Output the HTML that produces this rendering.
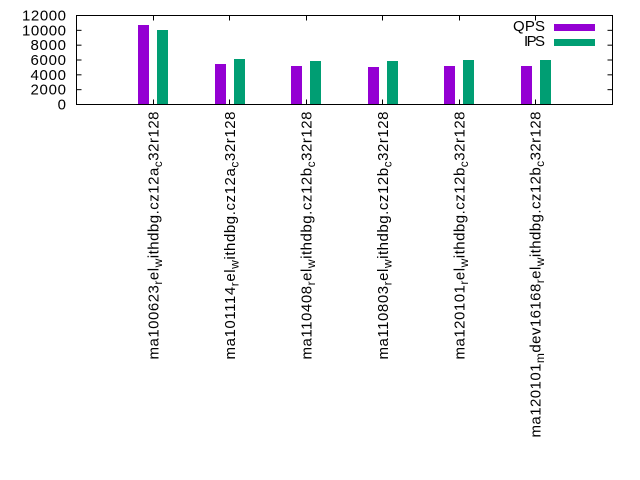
<!DOCTYPE html>
<html>
<head>
<meta charset="utf-8">
<style>
  html,body{margin:0;padding:0;background:#fff;}
  svg{display:block;}
  text{font-family:"Liberation Sans",Arial,sans-serif;fill:#000;}
</style>
</head>
<body>
<svg width="640" height="480" viewBox="0 0 640 480" xmlns="http://www.w3.org/2000/svg">
  <rect x="0" y="0" width="640" height="480" fill="#fff"/>

  <!-- bars -->
  <g shape-rendering="crispEdges">
    <!-- group 1 t=153 -->
    <rect x="138" y="25" width="11" height="79.5" fill="#9400D3"/>
    <rect x="157" y="30" width="11" height="74.5" fill="#009E73"/>
    <!-- group 2 t=229.6 -->
    <rect x="215" y="64" width="11" height="40.5" fill="#9400D3"/>
    <rect x="234" y="59" width="11" height="45.5" fill="#009E73"/>
    <!-- group 3 t=306.2 -->
    <rect x="291" y="66" width="11" height="38.5" fill="#9400D3"/>
    <rect x="310" y="61" width="11" height="43.5" fill="#009E73"/>
    <!-- group 4 t=382.8 -->
    <rect x="368" y="67" width="11" height="37.5" fill="#9400D3"/>
    <rect x="387" y="61" width="11" height="43.5" fill="#009E73"/>
    <!-- group 5 t=459.4 -->
    <rect x="444" y="66" width="11" height="38.5" fill="#9400D3"/>
    <rect x="463" y="60" width="11" height="44.5" fill="#009E73"/>
    <!-- group 6 t=535.9 -->
    <rect x="521" y="66" width="11" height="38.5" fill="#9400D3"/>
    <rect x="540" y="60" width="11" height="44.5" fill="#009E73"/>
  </g>

  <!-- border -->
  <rect x="76.5" y="15.5" width="536" height="89" fill="none" stroke="#000" stroke-width="1"/>

  <!-- y ticks left and right -->
  <g stroke="#000" stroke-width="1">
    <line x1="76.5" y1="89.67" x2="81.5" y2="89.67"/>
    <line x1="76.5" y1="74.83" x2="81.5" y2="74.83"/>
    <line x1="76.5" y1="60" x2="81.5" y2="60"/>
    <line x1="76.5" y1="45.17" x2="81.5" y2="45.17"/>
    <line x1="76.5" y1="30.33" x2="81.5" y2="30.33"/>
    <line x1="612.5" y1="89.67" x2="607.5" y2="89.67"/>
    <line x1="612.5" y1="74.83" x2="607.5" y2="74.83"/>
    <line x1="612.5" y1="60" x2="607.5" y2="60"/>
    <line x1="612.5" y1="45.17" x2="607.5" y2="45.17"/>
    <line x1="612.5" y1="30.33" x2="607.5" y2="30.33"/>
    <!-- x ticks bottom and top -->
    <line x1="153.5" y1="104.5" x2="153.5" y2="99.5"/>
    <line x1="229.5" y1="104.5" x2="229.5" y2="99.5"/>
    <line x1="306.5" y1="104.5" x2="306.5" y2="99.5"/>
    <line x1="382.5" y1="104.5" x2="382.5" y2="99.5"/>
    <line x1="459.5" y1="104.5" x2="459.5" y2="99.5"/>
    <line x1="535.5" y1="104.5" x2="535.5" y2="99.5"/>
    <line x1="153.5" y1="15.5" x2="153.5" y2="20.5"/>
    <line x1="229.5" y1="15.5" x2="229.5" y2="20.5"/>
    <line x1="306.5" y1="15.5" x2="306.5" y2="20.5"/>
    <line x1="382.5" y1="15.5" x2="382.5" y2="20.5"/>
    <line x1="459.5" y1="15.5" x2="459.5" y2="20.5"/>
    <line x1="535.5" y1="15.5" x2="535.5" y2="20.5"/>
  </g>

  <!-- y tick labels -->
  <g font-size="15" text-anchor="end">
    <text x="66" y="20.5" textLength="44" lengthAdjust="spacing">12000</text>
    <text x="66" y="35.3" textLength="44" lengthAdjust="spacing">10000</text>
    <text x="66" y="50.2" textLength="35.5" lengthAdjust="spacing">8000</text>
    <text x="66" y="65" textLength="35.5" lengthAdjust="spacing">6000</text>
    <text x="66" y="79.8" textLength="35.5" lengthAdjust="spacing">4000</text>
    <text x="66" y="94.7" textLength="35.5" lengthAdjust="spacing">2000</text>
    <text x="66" y="109.5">0</text>
  </g>

  <!-- legend -->
  <g font-size="15" text-anchor="end">
    <text x="545" y="31" textLength="32" lengthAdjust="spacing">QPS</text>
    <text x="545" y="46" textLength="21" lengthAdjust="spacing">IPS</text>
  </g>
  <rect x="554" y="24" width="41" height="7" fill="#9400D3"/>
  <rect x="554" y="39" width="41" height="7" fill="#009E73"/>

  <!-- x labels (rotated) -->
  <g font-size="15" text-anchor="end">
    <text transform="translate(158.5,111.5) rotate(-90)" textLength="248" lengthAdjust="spacing">ma100623<tspan font-size="12" dy="3.5">r</tspan><tspan dy="-3.5">el</tspan><tspan font-size="12" dy="3.5">w</tspan><tspan dy="-3.5">ithdbg.cz12a</tspan><tspan font-size="12" dy="3.5">c</tspan><tspan dy="-3.5">32r128</tspan></text>
    <text transform="translate(235,111.5) rotate(-90)" textLength="248" lengthAdjust="spacing">ma101114<tspan font-size="12" dy="3.5">r</tspan><tspan dy="-3.5">el</tspan><tspan font-size="12" dy="3.5">w</tspan><tspan dy="-3.5">ithdbg.cz12a</tspan><tspan font-size="12" dy="3.5">c</tspan><tspan dy="-3.5">32r128</tspan></text>
    <text transform="translate(311.5,111.5) rotate(-90)" textLength="248" lengthAdjust="spacing">ma110408<tspan font-size="12" dy="3.5">r</tspan><tspan dy="-3.5">el</tspan><tspan font-size="12" dy="3.5">w</tspan><tspan dy="-3.5">ithdbg.cz12b</tspan><tspan font-size="12" dy="3.5">c</tspan><tspan dy="-3.5">32r128</tspan></text>
    <text transform="translate(388,111.5) rotate(-90)" textLength="248" lengthAdjust="spacing">ma110803<tspan font-size="12" dy="3.5">r</tspan><tspan dy="-3.5">el</tspan><tspan font-size="12" dy="3.5">w</tspan><tspan dy="-3.5">ithdbg.cz12b</tspan><tspan font-size="12" dy="3.5">c</tspan><tspan dy="-3.5">32r128</tspan></text>
    <text transform="translate(464.5,111.5) rotate(-90)" textLength="248" lengthAdjust="spacing">ma120101<tspan font-size="12" dy="3.5">r</tspan><tspan dy="-3.5">el</tspan><tspan font-size="12" dy="3.5">w</tspan><tspan dy="-3.5">ithdbg.cz12b</tspan><tspan font-size="12" dy="3.5">c</tspan><tspan dy="-3.5">32r128</tspan></text>
    <text transform="translate(540.5,111.5) rotate(-90)" textLength="326" lengthAdjust="spacing">ma120101<tspan font-size="12" dy="3.5">m</tspan><tspan dy="-3.5">dev16168</tspan><tspan font-size="12" dy="3.5">r</tspan><tspan dy="-3.5">el</tspan><tspan font-size="12" dy="3.5">w</tspan><tspan dy="-3.5">ithdbg.cz12b</tspan><tspan font-size="12" dy="3.5">c</tspan><tspan dy="-3.5">32r128</tspan></text>
  </g>
</svg>
</body>
</html>
